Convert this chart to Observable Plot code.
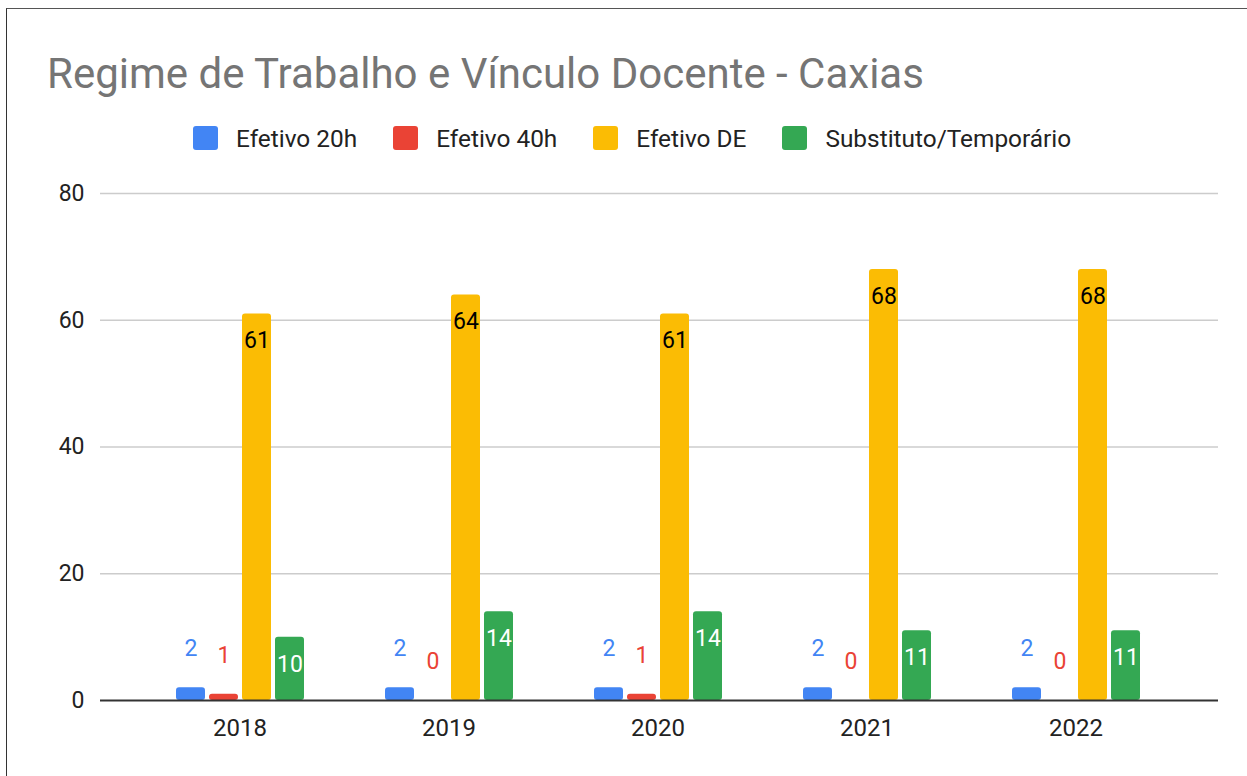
<!DOCTYPE html>
<html>
<head>
<meta charset="utf-8">
<script src="https://cdn.jsdelivr.net/npm/d3@7"></script>
<script src="https://cdn.jsdelivr.net/npm/@observablehq/plot@0.6"></script>
<style>
  html, body { margin: 0; padding: 0; background: #fff; }
  body { width: 1247px; height: 776px; overflow: hidden; position: relative; font-family: Roboto, "Liberation Sans", Arial, sans-serif; }
  #frame { position: absolute; left: 6px; top: 8px; width: 1400px; height: 900px; border-top: 1.5px solid #555; border-left: 1.5px solid #333; box-sizing: border-box; pointer-events: none; }
  #header { position: relative; height: 110px; }
  #title { position: absolute; left: 47px; top: 53px; font-size: 42px; line-height: 42px; color: #757575; white-space: nowrap; }
  #legend { position: relative; height: 56px; display: flex; align-items: center; padding-left: 193px; box-sizing: border-box; }
  .item { display: flex; align-items: center; margin-right: 36px; }
  .sw { width: 25px; height: 24px; border-radius: 3px; margin-right: 18px; }
  .lab { font-size: 24.4px; color: #222; white-space: nowrap; }
  #chart { position: relative; width: 1247px; height: 610px; }
  #chart svg { display: block; position: absolute; left: 0; top: 0; }
</style>
</head>
<body>
<div id="frame"></div>
<div id="header"><div id="title">Regime de Trabalho e Vínculo Docente - Caxias</div></div>
<div id="legend"></div>
<div id="chart"></div>
<script>
const years = ["2018", "2019", "2020", "2021", "2022"];
const series = ["Efetivo 20h", "Efetivo 40h", "Efetivo DE", "Substituto/Temporário"];
const colors = ["#4285F4", "#EA4335", "#FBBC04", "#34A853"];
const labelColors = ["#4285F4", "#EA4335", "#000000", "#ffffff"];
const efetivo20h = [2, 2, 2, 2, 2];
const efetivo40h = [1, 0, 1, 0, 0];
const efetivoDE = [61, 64, 61, 68, 68];
const substituto = [10, 14, 14, 11, 11];
const yTicks = [0, 20, 40, 60, 80];

const valuesBySeries = [efetivo20h, efetivo40h, efetivoDE, substituto];
const rows = [];
years.forEach((year, i) => {
  series.forEach((s, j) => {
    rows.push({ year, series: s, value: valuesBySeries[j][i], idx: j });
  });
});
const outside = rows.filter(d => d.idx < 2);
const inside = rows.filter(d => d.idx >= 2);

// Legend
const legend = document.getElementById("legend");
series.forEach((s, j) => {
  const item = document.createElement("div");
  item.className = "item";
  const sw = document.createElement("div");
  sw.className = "sw";
  sw.style.background = colors[j];
  const lab = document.createElement("span");
  lab.className = "lab";
  lab.textContent = s;
  item.appendChild(sw);
  item.appendChild(lab);
  legend.appendChild(item);
});

const common = {
  width: 1247,
  height: 610,
  marginLeft: 100,
  marginRight: 29,
  marginTop: 27,
  marginBottom: 76,
  style: { fontFamily: "Roboto, 'Liberation Sans', Arial, sans-serif", background: "transparent", overflow: "visible" }
};

// Back layer: grid lines and y tick labels
const back = Plot.plot({
  ...common,
  y: { domain: [0, 80], axis: null },
  marks: [
    Plot.ruleY(yTicks.filter(d => d > 0), { stroke: "#cccccc", strokeWidth: 1.3 }),
    Plot.text(yTicks, { y: d => d, text: d => String(d), frameAnchor: "left", textAnchor: "end", dx: -16, fontSize: 23, fill: "#222" })
  ]
});

// Middle layer: grouped bars and labels
const bars = Plot.plot({
  ...common,
  marginLeft: 98,
  marginRight: 31,
  fx: { domain: years, paddingInner: 0.383, paddingOuter: 0.3655, label: null },
  x: { domain: series, paddingInner: 0.13, paddingOuter: 0, axis: null },
  y: { domain: [0, 80], axis: null },
  color: { domain: series, range: colors },
  marks: [
    Plot.barY(rows, { fx: "year", x: "series", y: "value", fill: "series", rx: 3 }),
    Plot.text(outside, { fx: "year", x: "series", y: "value", text: d => String(d.value), fill: d => labelColors[d.idx], dy: -39, fontSize: 23 }),
    Plot.text(inside, { fx: "year", x: "series", y: "value", text: d => String(d.value), fill: d => labelColors[d.idx], dy: 27, fontSize: 23 }),
    Plot.axisFx({ anchor: "bottom", tickSize: 0, tickPadding: 18, fontSize: 24, fill: "#222", label: null })
  ]
});

// Front layer: baseline
const front = Plot.plot({
  ...common,
  y: { domain: [0, 80], axis: null },
  marks: [
    Plot.ruleY([0], { stroke: "#333", strokeWidth: 2.2 })
  ]
});

const el = document.getElementById("chart");
el.appendChild(back);
el.appendChild(bars);
el.appendChild(front);
</script>
</body>
</html>
